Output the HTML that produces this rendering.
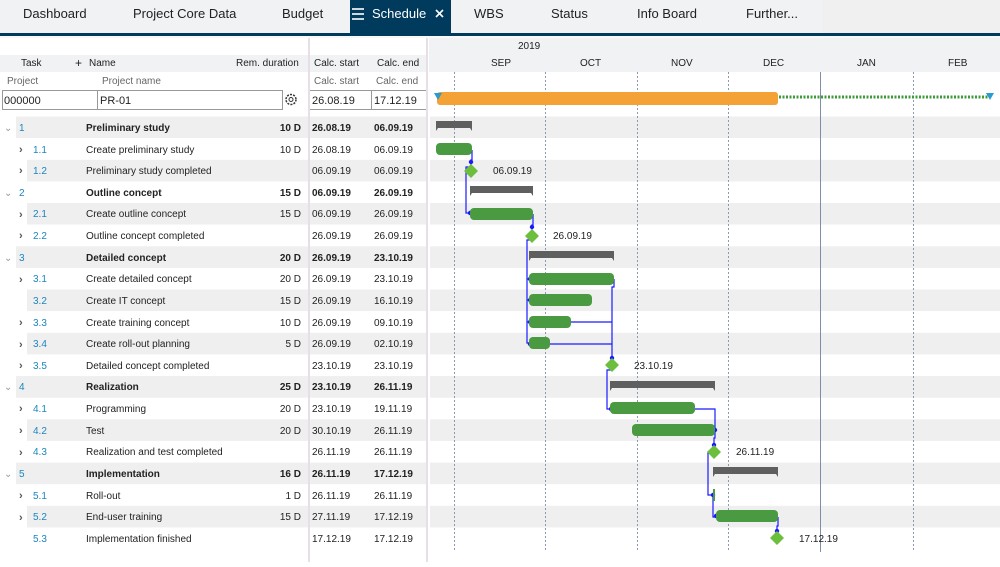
<!DOCTYPE html>
<html><head><meta charset="utf-8"><style>
body{margin:0;width:1000px;height:562px;overflow:hidden;background:#fff;font-family:"Liberation Sans",sans-serif}
svg text{font-family:"Liberation Sans",sans-serif}
</style></head><body>
<svg width="1000" height="562" viewBox="0 0 1000 562" xmlns="http://www.w3.org/2000/svg">
<!-- tab bar -->
<rect x="0" y="0" width="1000" height="33" fill="#f0f0f0"/>
<rect x="0" y="0" width="822" height="33" fill="#f1f2f4"/>
<rect x="350" y="0" width="101" height="34" fill="#003a5c"/>
<rect x="0" y="33" width="1000" height="3" fill="#003a5c"/>
<g font-size="13" fill="#222">
<text x="23" y="18">Dashboard</text>
<text x="133" y="18">Project Core Data</text>
<text x="282" y="18">Budget</text>
<text x="372" y="18" fill="#fff">Schedule</text>
<text x="474" y="18">WBS</text>
<text x="551" y="18">Status</text>
<text x="637" y="18">Info Board</text>
<text x="746" y="18">Further...</text>
</g>
<g stroke="#fff" stroke-width="1.6"><line x1="352" y1="9" x2="364" y2="9"/><line x1="352" y1="14" x2="364" y2="14"/><line x1="352" y1="19" x2="364" y2="19"/>
<line x1="436" y1="10" x2="443" y2="17"/><line x1="443" y1="10" x2="436" y2="17"/></g>
<!-- header rows -->
<rect x="0" y="36" width="1000" height="2" fill="#f8f8f8"/>
<rect x="0" y="55" width="427" height="17" fill="#f1f2f4"/>
<rect x="429" y="38" width="571" height="34" fill="#f1f2f4"/>
<g font-size="10" fill="#222">
<text x="21" y="66">Task</text><text x="75" y="67" font-size="12">+</text><text x="89" y="66">Name</text>
<text x="236" y="66">Rem. duration</text><text x="314" y="66">Calc. start</text><text x="377" y="66">Calc. end</text>
</g>
<g font-size="10" fill="#666">
<text x="7" y="84">Project</text><text x="102" y="84">Project name</text><text x="314" y="84">Calc. start</text><text x="376" y="84">Calc. end</text>
</g>
<g font-size="10" fill="#222"><text x="518" y="49">2019</text>
<text x="491" y="66">SEP</text><text x="580" y="66">OCT</text><text x="671" y="66">NOV</text><text x="763" y="66">DEC</text><text x="857" y="66">JAN</text><text x="948" y="66">FEB</text></g>
<!-- project row -->
<rect x="2.5" y="90.5" width="280" height="19" fill="#fff" stroke="#999"/>
<line x1="97.5" y1="90" x2="97.5" y2="110" stroke="#999"/>
<rect x="309" y="90.5" width="118" height="19" fill="#fff" stroke="#999"/>
<line x1="371.5" y1="90" x2="371.5" y2="110" stroke="#999"/>
<g font-size="11" fill="#222"><text x="4" y="104">000000</text><text x="100" y="104">PR-01</text><text x="312" y="104">26.08.19</text><text x="374" y="104">17.12.19</text></g>
<circle cx="291" cy="99.5" r="5" fill="none" stroke="#333" stroke-width="1.5" stroke-dasharray="2 1.2"/><circle cx="291" cy="99.5" r="2" fill="none" stroke="#333"/>
<!-- gray rows -->
<g fill="#efefef">
<rect x="16" y="116.5" width="984" height="21.6"/>
<rect x="27" y="159.8" width="973" height="21.6"/>
<rect x="27" y="203" width="973" height="21.6"/>
<rect x="16" y="246.3" width="984" height="21.6"/>
<rect x="27" y="289.5" width="973" height="21.6"/>
<rect x="27" y="332.8" width="973" height="21.6"/>
<rect x="16" y="376.1" width="984" height="21.6"/>
<rect x="27" y="419.3" width="973" height="21.6"/>
<rect x="16" y="462.6" width="984" height="21.6"/>
<rect x="27" y="505.8" width="973" height="21.6"/>
</g>
<rect x="427" y="116" width="3" height="446" fill="#fff"/>
<!-- separators -->
<rect x="308" y="38" width="2" height="524" fill="#e6dfe8"/>
<rect x="426" y="38" width="2" height="524" fill="#e6dfe8"/>
<!-- grid lines -->
<g stroke="#8a9ab0" stroke-width="1" stroke-dasharray="2 2">
<line x1="454.5" y1="72" x2="454.5" y2="550"/><line x1="545.5" y1="72" x2="545.5" y2="550"/><line x1="637.5" y1="72" x2="637.5" y2="550"/><line x1="728.5" y1="72" x2="728.5" y2="550"/><line x1="913.5" y1="72" x2="913.5" y2="550"/>
</g>
<line x1="820.5" y1="72" x2="820.5" y2="552" stroke="#7f8ea8"/>
<!-- table text -->
<g font-size="10" fill="#222">
<g fill="#999" font-size="10"><text x="4" y="131">⌄</text><text x="4" y="196">⌄</text><text x="4" y="261">⌄</text><text x="4" y="390">⌄</text><text x="4" y="477">⌄</text></g>
<g fill="#555" font-size="11" font-weight="bold">
<text x="19" y="153">›</text><text x="19" y="174">›</text><text x="19" y="218">›</text><text x="19" y="239">›</text><text x="19" y="283">›</text><text x="19" y="326">›</text><text x="19" y="348">›</text><text x="19" y="369">›</text><text x="19" y="412">›</text><text x="19" y="434">›</text><text x="19" y="456">›</text><text x="19" y="499">›</text><text x="19" y="521">›</text></g>
<g fill="#1a86c0">
<text x="19" y="131">1</text><text x="33" y="153">1.1</text><text x="33" y="174">1.2</text><text x="19" y="196">2</text><text x="33" y="217">2.1</text><text x="33" y="239">2.2</text><text x="19" y="261">3</text><text x="33" y="282">3.1</text><text x="33" y="304">3.2</text><text x="33" y="326">3.3</text><text x="33" y="347">3.4</text><text x="33" y="369">3.5</text><text x="19" y="390">4</text><text x="33" y="412">4.1</text><text x="33" y="434">4.2</text><text x="33" y="455">4.3</text><text x="19" y="477">5</text><text x="33" y="499">5.1</text><text x="33" y="520">5.2</text><text x="33" y="542">5.3</text></g>
<g>
<text x="86" y="131" font-weight="bold">Preliminary study</text><text x="86" y="153">Create preliminary study</text><text x="86" y="174">Preliminary study completed</text>
<text x="86" y="196" font-weight="bold">Outline concept</text><text x="86" y="217">Create outline concept</text><text x="86" y="239">Outline concept completed</text>
<text x="86" y="261" font-weight="bold">Detailed concept</text><text x="86" y="282">Create detailed concept</text><text x="86" y="304">Create IT concept</text><text x="86" y="326">Create training concept</text><text x="86" y="347">Create roll-out planning</text><text x="86" y="369">Detailed concept completed</text>
<text x="86" y="390" font-weight="bold">Realization</text><text x="86" y="412">Programming</text><text x="86" y="434">Test</text><text x="86" y="455">Realization and test completed</text>
<text x="86" y="477" font-weight="bold">Implementation</text><text x="86" y="499">Roll-out</text><text x="86" y="520">End-user training</text><text x="86" y="542">Implementation finished</text>
</g>
<g text-anchor="end">
<text x="301" y="131" font-weight="bold">10 D</text><text x="301" y="153">10 D</text><text x="301" y="196" font-weight="bold">15 D</text><text x="301" y="217">15 D</text><text x="301" y="261" font-weight="bold">20 D</text><text x="301" y="282">20 D</text><text x="301" y="304">15 D</text><text x="301" y="326">10 D</text><text x="301" y="347">5 D</text><text x="301" y="390" font-weight="bold">25 D</text><text x="301" y="412">20 D</text><text x="301" y="434">20 D</text><text x="301" y="477" font-weight="bold">16 D</text><text x="301" y="499">1 D</text><text x="301" y="520">15 D</text>
</g>
<g>
<text x="312" y="131" font-weight="bold">26.08.19</text><text x="374" y="131" font-weight="bold">06.09.19</text>
<text x="312" y="153">26.08.19</text><text x="374" y="153">06.09.19</text>
<text x="312" y="174">06.09.19</text><text x="374" y="174">06.09.19</text>
<text x="312" y="196" font-weight="bold">06.09.19</text><text x="374" y="196" font-weight="bold">26.09.19</text>
<text x="312" y="217">06.09.19</text><text x="374" y="217">26.09.19</text>
<text x="312" y="239">26.09.19</text><text x="374" y="239">26.09.19</text>
<text x="312" y="261" font-weight="bold">26.09.19</text><text x="374" y="261" font-weight="bold">23.10.19</text>
<text x="312" y="282">26.09.19</text><text x="374" y="282">23.10.19</text>
<text x="312" y="304">26.09.19</text><text x="374" y="304">16.10.19</text>
<text x="312" y="326">26.09.19</text><text x="374" y="326">09.10.19</text>
<text x="312" y="347">26.09.19</text><text x="374" y="347">02.10.19</text>
<text x="312" y="369">23.10.19</text><text x="374" y="369">23.10.19</text>
<text x="312" y="390" font-weight="bold">23.10.19</text><text x="374" y="390" font-weight="bold">26.11.19</text>
<text x="312" y="412">23.10.19</text><text x="374" y="412">19.11.19</text>
<text x="312" y="434">30.10.19</text><text x="374" y="434">26.11.19</text>
<text x="312" y="455">26.11.19</text><text x="374" y="455">26.11.19</text>
<text x="312" y="477" font-weight="bold">26.11.19</text><text x="374" y="477" font-weight="bold">17.12.19</text>
<text x="312" y="499">26.11.19</text><text x="374" y="499">26.11.19</text>
<text x="312" y="520">27.11.19</text><text x="374" y="520">17.12.19</text>
<text x="312" y="542">17.12.19</text><text x="374" y="542">17.12.19</text>
</g>
</g>
<!-- project bar -->
<rect x="437" y="92" width="341" height="13" rx="3" fill="#f4a236"/>
<line x1="779" y1="97" x2="988" y2="97" stroke="#3f9a3a" stroke-width="3" stroke-dasharray="2 1.5"/>
<path d="M434 93 L442 93 L438 100 Z" fill="#2a9ad0"/><path d="M986 93 L994 93 L990 100 Z" fill="#2a9ad0"/>
<!-- dependency lines -->
<g fill="none" stroke="#1a1aff" stroke-width="1.2">
<path d="M472 150 V160 H471 V165"/><path d="M471 167 H466 V213 H470"/>
<path d="M533 214 V225 H532 V230"/><path d="M532 240 H527 V343 H530"/>
<path d="M527 279 H530 M527 300 H530 M527 322 H530"/>
<path d="M614 279 V287 H612 V360"/><path d="M571 322 H612 M550 344 H612"/>
<path d="M612 370 H607 V409 H611"/>
<path d="M695 409 H715 V430 M715 430 V438 H714 V446"/>
<path d="M714 452 H708 V495 H713 V517 H716"/>
<path d="M778 517 V526 H777 V533"/>
</g>
<g fill="#1a1aff"><circle cx="471" cy="162" r="2.2"/><circle cx="470" cy="213" r="2.2"/><circle cx="532" cy="227" r="2.2"/><circle cx="530" cy="279" r="2.2"/><circle cx="530" cy="300" r="2.2"/><circle cx="530" cy="322" r="2.2"/><circle cx="530" cy="344" r="2.2"/><circle cx="612" cy="358" r="2.2"/><circle cx="611" cy="409" r="2.2"/><circle cx="715" cy="430" r="2.2"/><circle cx="714" cy="445" r="2.2"/><circle cx="713" cy="495" r="2.2"/><circle cx="716" cy="516" r="2.2"/><circle cx="777" cy="531" r="2.2"/></g>
<!-- summary brackets -->
<g fill="#5f5f5f">
<path d="M436 121 H472 V131 L470 128 H438 L436 131 Z"/>
<path d="M470 186 H533 V196 L531 193 H472 L470 196 Z"/>
<path d="M529 251 H614 V261 L612 258 H531 L529 261 Z"/>
<path d="M610 381 H715 V391 L713 388 H612 L610 391 Z"/>
<path d="M713 467 H778 V477 L776 474 H715 L713 477 Z"/>
</g>
<!-- task bars -->
<g fill="#4a9a42">
<rect x="436" y="143" width="36" height="12" rx="4"/>
<rect x="470" y="208" width="63" height="12" rx="4"/>
<rect x="529" y="273" width="85" height="12" rx="4"/>
<rect x="529" y="294" width="63" height="12" rx="4"/>
<rect x="529" y="316" width="42" height="12" rx="4"/>
<rect x="529" y="337" width="21" height="12" rx="4"/>
<rect x="610" y="402" width="85" height="12" rx="4"/>
<rect x="632" y="424" width="83" height="12" rx="4"/>
<rect x="713" y="489" width="2" height="12"/>
<rect x="716" y="510" width="62" height="12" rx="4"/>
</g>
<!-- milestones -->
<g fill="#6cbf3c">
<path d="M471 164 L478 171 L471 178 L464 171 Z"/>
<path d="M532 229 L539 236 L532 243 L525 236 Z"/>
<path d="M612 358 L619 365 L612 372 L605 365 Z"/>
<path d="M714 445 L721 452 L714 459 L707 452 Z"/>
<path d="M777 531 L784 538 L777 545 L770 538 Z"/>
</g>
<g font-size="10" fill="#222">
<text x="493" y="174">06.09.19</text><text x="553" y="239">26.09.19</text><text x="634" y="369">23.10.19</text><text x="736" y="455">26.11.19</text><text x="799" y="542">17.12.19</text>
</g>
</svg>
</body></html>
